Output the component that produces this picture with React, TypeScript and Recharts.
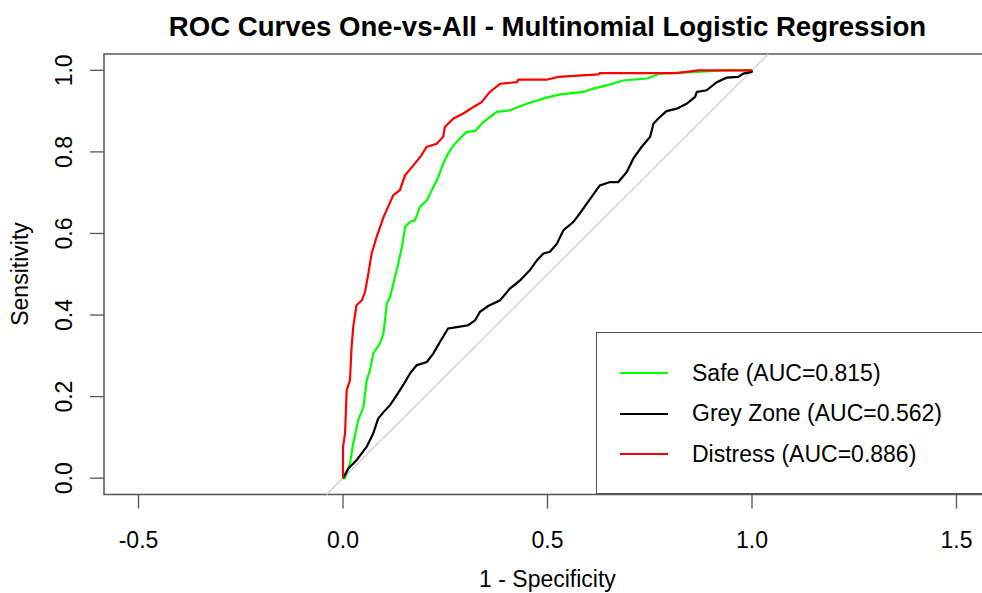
import React from "react";
import { Legend, Line, LineChart, ReferenceArea, ReferenceLine, XAxis, YAxis } from "recharts";

const FONT = "'Liberation Sans', Arial, sans-serif";

const xTicks = [-0.5, 0, 0.5, 1, 1.5];
const yTicks = [0, 0.2, 0.4, 0.6, 0.8, 1];

// [1 - specificity, sensitivity]
const safePoints: [number, number][] = [
  [0, 0], [0.005, 0.0], [0.017, 0.036], [0.025, 0.085], [0.037, 0.142], [0.05, 0.175],
  [0.058, 0.24], [0.066, 0.265], [0.074, 0.306], [0.09, 0.33], [0.099, 0.355],
  [0.107, 0.428], [0.115, 0.444], [0.127, 0.493], [0.135, 0.526], [0.144, 0.567],
  [0.152, 0.616], [0.164, 0.628], [0.176, 0.632], [0.188, 0.665], [0.205, 0.681],
  [0.221, 0.714], [0.233, 0.738], [0.245, 0.771], [0.257, 0.796], [0.27, 0.816],
  [0.286, 0.833], [0.302, 0.849], [0.323, 0.851], [0.343, 0.873], [0.376, 0.898],
  [0.408, 0.902], [0.449, 0.918], [0.498, 0.933], [0.531, 0.941], [0.588, 0.947],
  [0.612, 0.955], [0.645, 0.963], [0.685, 0.975], [0.743, 0.98], [0.775, 0.992],
  [0.865, 0.996], [0.93, 1.0], [1.0, 1.0],
];

const greyZonePoints: [number, number][] = [
  [0, 0], [0.013, 0.024], [0.033, 0.044], [0.058, 0.077], [0.074, 0.11], [0.086, 0.146],
  [0.099, 0.162], [0.115, 0.179], [0.131, 0.203], [0.147, 0.228], [0.164, 0.257],
  [0.18, 0.277], [0.205, 0.285], [0.221, 0.306], [0.237, 0.334], [0.257, 0.367],
  [0.282, 0.371], [0.306, 0.375], [0.323, 0.387], [0.335, 0.408], [0.355, 0.422],
  [0.384, 0.436], [0.408, 0.465], [0.433, 0.485], [0.457, 0.51], [0.474, 0.534],
  [0.49, 0.551], [0.506, 0.555], [0.523, 0.575], [0.539, 0.608], [0.563, 0.628],
  [0.579, 0.649], [0.596, 0.673], [0.628, 0.718], [0.653, 0.726], [0.673, 0.726],
  [0.694, 0.751], [0.71, 0.784], [0.73, 0.812], [0.751, 0.837], [0.759, 0.869],
  [0.771, 0.882], [0.791, 0.9], [0.816, 0.906], [0.84, 0.918], [0.861, 0.935],
  [0.865, 0.947], [0.889, 0.951], [0.914, 0.971], [0.938, 0.982], [0.966, 0.984],
  [0.979, 0.992], [0.999, 0.996], [1.0, 1.0],
];

const distressPoints: [number, number][] = [
  [0, 0], [0, 0.077], [0.005, 0.11], [0.009, 0.216], [0.017, 0.24], [0.021, 0.322],
  [0.025, 0.371], [0.033, 0.424], [0.046, 0.436], [0.054, 0.457], [0.062, 0.502],
  [0.07, 0.551], [0.082, 0.591], [0.099, 0.64], [0.123, 0.694], [0.139, 0.706],
  [0.152, 0.743], [0.172, 0.767], [0.192, 0.792], [0.204, 0.812], [0.229, 0.82],
  [0.245, 0.837], [0.249, 0.861], [0.27, 0.882], [0.294, 0.894], [0.319, 0.91],
  [0.339, 0.922], [0.359, 0.947], [0.384, 0.967], [0.425, 0.971], [0.429, 0.977],
  [0.498, 0.977], [0.526, 0.984], [0.624, 0.99], [0.628, 0.993], [0.816, 0.993],
  [0.868, 1.0], [1.0, 1.0],
];

const classNames = ["Safe", "Grey Zone", "Distress"];
const aucValues = [0.815, 0.562, 0.886];
const classColors = ["#00ff00", "#000000", "#ff0000"];
const classPoints = [safePoints, greyZonePoints, distressPoints];

const series = classNames.map((name, i) => ({
  name,
  label: `${name} (AUC=${aucValues[i].toFixed(3)})`,
  color: classColors[i],
  data: classPoints[i].map(([fpr, tpr]) => ({ fpr, tpr })),
}));

const X_DOMAIN: [number, number] = [-0.5844, 1.5844];
const Y_DOMAIN: [number, number] = [-0.04, 1.04];

function XTick({ x, y, payload }: any) {
  return (
    <text x={x} y={y + 39} textAnchor="middle" fontSize={23} fontFamily={FONT} fill="#000">
      {Number(payload.value).toFixed(1)}
    </text>
  );
}

function YTick({ x, y, payload }: any) {
  const bx = x - 18;
  return (
    <text
      x={bx}
      y={y}
      transform={`rotate(-90, ${bx}, ${y})`}
      textAnchor="middle"
      fontSize={23}
      fontFamily={FONT}
      fill="#000"
    >
      {Number(payload.value).toFixed(1)}
    </text>
  );
}

function RocLegend() {
  return (
    <div
      style={{
        position: "relative",
        width: 400,
        height: 162,
        boxSizing: "border-box",
        border: "1.5px solid #555",
        background: "#fff",
        fontFamily: FONT,
        fontSize: 23,
      }}
    >
      {series.map((s, i) => (
        <div
          key={s.name}
          style={{ position: "absolute", left: 0, top: 40 + i * 40.5 - 14, height: 28, display: "flex", alignItems: "center" }}
        >
          <div style={{ marginLeft: 23, width: 48, height: 2, background: s.color }} />
          <span style={{ marginLeft: 24, color: "#000", whiteSpace: "nowrap" }}>{s.label}</span>
        </div>
      ))}
    </div>
  );
}

export default function App() {
  return (
    <div
      style={{
        position: "fixed",
        left: 0,
        top: 0,
        width: 982,
        height: 593,
        overflow: "hidden",
        background: "#fff",
      }}
    >
      <LineChart width={1000} height={593} margin={{ top: 54, right: 9, bottom: 0, left: 0 }}>
        <XAxis
          type="number"
          dataKey="fpr"
          domain={X_DOMAIN}
          allowDataOverflow
          ticks={xTicks}
          interval={0}
          axisLine={false}
          tickSize={14}
          tickMargin={0}
          tickLine={{ stroke: "#555", strokeWidth: 1.3 }}
          tick={<XTick />}
          height={98.5}
        />
        <YAxis
          type="number"
          dataKey="tpr"
          domain={Y_DOMAIN}
          allowDataOverflow
          ticks={yTicks}
          interval={0}
          axisLine={false}
          tickSize={14}
          tickMargin={0}
          tickLine={{ stroke: "#555", strokeWidth: 1.3 }}
          tick={<YTick />}
          width={104}
        />
        <ReferenceLine
          segment={[
            { x: -0.04, y: -0.04 },
            { x: 1.04, y: 1.04 },
          ]}
          stroke="#cfcfcf"
          strokeWidth={1.3}
          ifOverflow="visible"
        />
        {series.map((s) => (
          <Line
            key={s.name}
            data={s.data}
            dataKey="tpr"
            name={s.label}
            type="linear"
            stroke={s.color}
            strokeWidth={2.2}
            dot={false}
            activeDot={false}
            isAnimationActive={false}
          />
        ))}
        <ReferenceArea
          x1={X_DOMAIN[0]}
          x2={X_DOMAIN[1]}
          y1={Y_DOMAIN[0]}
          y2={Y_DOMAIN[1]}
          fill="none"
          fillOpacity={0}
          stroke="#555"
          strokeWidth={1.5}
          ifOverflow="visible"
        />
        <Legend
          layout="horizontal"
          verticalAlign="middle"
          align="center"
          content={() => <RocLegend />}
          wrapperStyle={{ position: "absolute", left: 596, top: 332, width: 400, height: 162 }}
        />
      </LineChart>
      <svg
        width={982}
        height={593}
        style={{ position: "absolute", left: 0, top: 0, pointerEvents: "none" }}
      >
        <text x={547.5} y={36} textAnchor="middle" fontSize={27.6} fontWeight="bold" fontFamily={FONT} fill="#000">
          ROC Curves One-vs-All - Multinomial Logistic Regression
        </text>
        <text x={547.5} y={587} textAnchor="middle" fontSize={23} fontFamily={FONT} fill="#000">
          1 - Specificity
        </text>
        <text
          x={28}
          y={274}
          transform="rotate(-90, 28, 274)"
          textAnchor="middle"
          fontSize={23}
          fontFamily={FONT}
          fill="#000"
        >
          Sensitivity
        </text>
      </svg>
    </div>
  );
}
